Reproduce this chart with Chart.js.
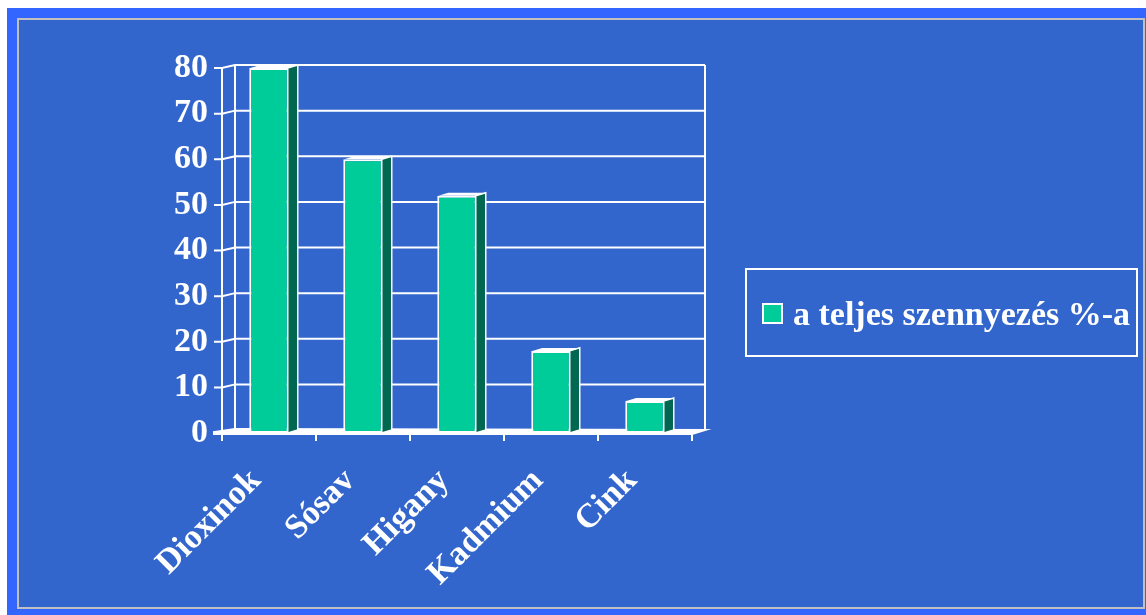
<!DOCTYPE html>
<html>
<head>
<meta charset="utf-8">
<script src="https://cdn.jsdelivr.net/npm/chart.js@4"></script>
<style>
    body { margin: 0; background: #fff; width: 1146px; height: 615px; overflow: hidden; position: relative; }
    #outer { position: absolute; left: 7px; top: 8px; width: 1139px; height: 607px; background: #3366FF; }
    #inner { position: absolute; left: 17px; top: 18px; width: 1124px; height: 587px; background: #3366CC; border: 2px solid #C0C0C0; }
    #chart { position: absolute; left: 0; top: 0; }
    #legend { position: absolute; left: 745px; top: 268px; width: 389px; height: 85px; border: 2px solid #fff; }
    #legend .swatch { position: absolute; left: 15px; top: 33px; width: 17px; height: 17px; background: #00CC99; border: 2px solid #fff; }
    #legend .label { position: absolute; left: 46px; top: 27px; font: bold 34px "Liberation Serif", "Times New Roman", serif; line-height: 1; color: #fff; white-space: nowrap; }
</style>
</head>
<body>
<div id="outer"></div>
<div id="inner"></div>
<canvas id="chart" width="1146" height="615"></canvas>
<div id="legend"><div class="swatch"></div><div class="label"></div></div>

<script>
// Pollution share by substance
const categories = ['Dioxinok', 'Sósav', 'Higany', 'Kadmium', 'Cink'];
const shares = [80, 60, 52, 18, 7];
const seriesLabel = 'a teljes szennyezés %-a';
const yMax = 80;
const yStep = 10;

const FRONT = '#00CC99';
const SIDE = '#006850';
const DEPTH_X = 13;   // 3D wall depth
const DEPTH_Y = -3;
const BAR_DX = 10;    // 3D bar depth
const BAR_DY = -3;

// Back wall, left wall and floor of the 3D box
const wallPlugin = {
    id: 'wall',
    beforeDatasetsDraw(chart) {
        const ctx = chart.ctx;
        const area = chart.chartArea;
        const y = chart.scales.y;
        const x = chart.scales.x;
        const left = area.left, right = area.right;
        const top = y.getPixelForValue(yMax), bottom = y.getPixelForValue(0);
        ctx.save();
        ctx.strokeStyle = '#fff';
        ctx.lineWidth = 2;

        // horizontal gridlines on the back wall, connectors on the left wall, tick marks
        y.ticks.forEach(t => {
            const py = y.getPixelForValue(t.value);
            ctx.beginPath();
            ctx.moveTo(left - 8, py);
            ctx.lineTo(left, py);
            ctx.lineTo(left + DEPTH_X, py + DEPTH_Y);
            ctx.lineTo(right + DEPTH_X, py + DEPTH_Y);
            ctx.stroke();
        });

        // verticals
        ctx.beginPath();
        ctx.moveTo(left, top); ctx.lineTo(left, bottom);
        ctx.moveTo(left + DEPTH_X, top + DEPTH_Y); ctx.lineTo(left + DEPTH_X, bottom + DEPTH_Y);
        ctx.moveTo(right + DEPTH_X, top + DEPTH_Y); ctx.lineTo(right + DEPTH_X, bottom + DEPTH_Y);
        ctx.stroke();

        // floor
        ctx.fillStyle = '#fff';
        ctx.beginPath();
        ctx.moveTo(left - 8, bottom + 1);
        ctx.lineTo(right, bottom + 1);
        ctx.lineTo(right + DEPTH_X, bottom + DEPTH_Y);
        ctx.lineTo(left + DEPTH_X, bottom + DEPTH_Y - 1);
        ctx.lineTo(left - 8, bottom - 1);
        ctx.closePath();
        ctx.fill();
        ctx.stroke();

        // category separators below the floor
        const step = x.getPixelForValue(1) - x.getPixelForValue(0);
        for (let i = 0; i <= categories.length; i++) {
            const px = x.getPixelForValue(i) - step / 2;
            ctx.beginPath();
            ctx.moveTo(px, bottom);
            ctx.lineTo(px, bottom + 8);
            ctx.stroke();
        }
        ctx.restore();
    }
};

// Side and top faces of each bar
const bar3dPlugin = {
    id: 'bar3d',
    afterDatasetsDraw(chart) {
        const ctx = chart.ctx;
        ctx.save();
        ctx.strokeStyle = '#fff';
        ctx.lineWidth = 1.5;
        chart.getDatasetMeta(0).data.forEach(bar => {
            const { x, y, base, width } = bar.getProps(['x', 'y', 'base', 'width'], true);
            const l = x - width / 2 + 1, r = x + width / 2 - 1;
            ctx.fillStyle = SIDE;
            ctx.beginPath();
            ctx.moveTo(r, y);
            ctx.lineTo(r + BAR_DX, y + BAR_DY);
            ctx.lineTo(r + BAR_DX, base + BAR_DY);
            ctx.lineTo(r, base);
            ctx.closePath();
            ctx.fill();
            ctx.stroke();
            ctx.fillStyle = '#fff';
            ctx.beginPath();
            ctx.moveTo(l, y);
            ctx.lineTo(l + BAR_DX, y + BAR_DY);
            ctx.lineTo(r + BAR_DX, y + BAR_DY);
            ctx.lineTo(r, y);
            ctx.closePath();
            ctx.fill();
        });
        ctx.restore();
    }
};

const serif = '"Liberation Serif", "Times New Roman", serif';

new Chart(document.getElementById('chart'), {
    type: 'bar',
    data: {
        labels: categories,
        datasets: [{
            label: seriesLabel,
            data: shares,
            backgroundColor: FRONT,
            borderColor: '#fff',
            borderWidth: 2,
            borderSkipped: false,
            categoryPercentage: 1,
            barPercentage: 0.42
        }]
    },
    options: {
        responsive: false,
        animation: false,
        layout: { padding: { top: 68, right: 454, left: 0, bottom: 0 } },
        plugins: {
            legend: { display: false },
            tooltip: { enabled: false }
        },
        scales: {
            y: {
                min: 0,
                max: yMax,
                ticks: { stepSize: yStep, padding: 14, color: '#fff', font: { family: serif, size: 34, weight: 'bold' } },
                grid: { display: false, drawTicks: false },
                border: { display: false },
                afterFit(scale) { scale.width = 222; }
            },
            x: {
                ticks: {
                    minRotation: 45,
                    maxRotation: 45,
                    padding: 28,
                    labelOffset: -13,
                    color: '#fff',
                    font: { family: serif, size: 34, weight: 'bold' }
                },
                grid: { display: false, drawTicks: false },
                border: { display: false },
                afterFit(scale) { scale.height = 182; }
            }
        }
    },
    plugins: [wallPlugin, bar3dPlugin]
});

document.querySelector('#legend .label').textContent = seriesLabel;
</script>
</body>
</html>
